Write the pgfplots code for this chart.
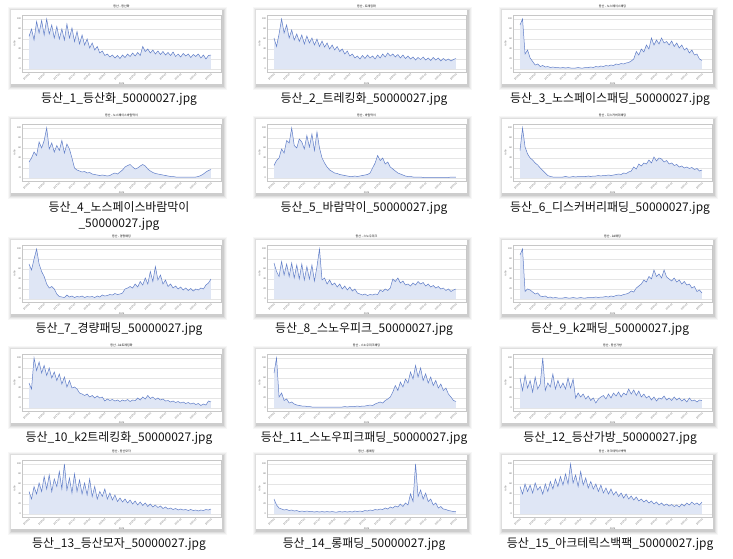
\documentclass[border=0pt]{standalone}
\usepackage{fontspec}
\setmainfont{Noto Sans CJK KR}
\usepackage{pgfplots}
\pgfplotsset{compat=1.18}
\usepackage{pgfplotstable}

\definecolor{lineblue}{RGB}{96,126,200}
\definecolor{fillblue}{RGB}{223,230,245}
\definecolor{capcol}{RGB}{20,20,20}

% one table per thumbnail, weekly ratio values (max = 100)
\pgfplotstableread[row sep=\\]{v\\65\\80\\58\\95\\72\\97\\68\\100\\70\\88\\62\\85\\60\\80\\58\\90\\62\\82\\55\\75\\50\\68\\48\\60\\42\\52\\38\\45\\32\\36\\27\\30\\24\\28\\22\\27\\21\\28\\23\\30\\25\\32\\26\\33\\27\\45\\35\\40\\32\\38\\30\\36\\29\\35\\28\\33\\27\\34\\25\\30\\24\\31\\26\\30\\23\\29\\25\\30\\22\\28\\20\\27\\28\\}\dA
\pgfplotstableread[row sep=\\]{v\\62\\45\\70\\100\\72\\88\\62\\78\\58\\70\\55\\68\\50\\66\\52\\62\\48\\60\\45\\56\\44\\52\\40\\48\\38\\45\\35\\40\\30\\36\\26\\30\\22\\26\\20\\27\\21\\28\\22\\26\\20\\28\\22\\30\\24\\32\\26\\30\\24\\29\\22\\28\\21\\26\\20\\24\\18\\23\\19\\24\\18\\22\\17\\23\\18\\22\\16\\21\\17\\20\\16\\19\\21\\}\dB
\pgfplotstableread[row sep=\\]{v\\88\\100\\30\\38\\22\\15\\8\\10\\5\\7\\4\\5\\3\\4\\3\\3\\2\\3\\2\\3\\2\\2\\2\\3\\2\\2\\3\\3\\4\\3\\5\\4\\6\\5\\7\\6\\8\\7\\10\\9\\11\\10\\12\\13\\16\\20\\35\\28\\40\\34\\48\\40\\62\\48\\58\\50\\62\\52\\55\\48\\56\\45\\52\\42\\48\\38\\42\\32\\38\\28\\30\\20\\17\\}\dC
\pgfplotstableread[row sep=\\]{v\\32\\40\\52\\45\\72\\60\\75\\100\\58\\70\\52\\65\\55\\75\\50\\68\\58\\40\\20\\16\\14\\12\\13\\10\\11\\8\\7\\6\\5\\6\\5\\4\\5\\8\\10\\8\\12\\16\\22\\25\\27\\22\\18\\20\\24\\27\\24\\18\\14\\11\\9\\8\\7\\6\\5\\4\\3\\3\\2\\2\\2\\2\\2\\2\\2\\2\\2\\3\\5\\8\\12\\15\\17\\}\dD
\pgfplotstableread[row sep=\\]{v\\25\\35\\40\\58\\50\\75\\70\\100\\65\\60\\78\\72\\58\\85\\62\\88\\55\\92\\60\\40\\30\\22\\16\\13\\10\\9\\7\\6\\5\\4\\3\\3\\4\\3\\4\\5\\6\\7\\10\\20\\30\\45\\35\\40\\28\\32\\22\\18\\14\\10\\8\\6\\4\\3\\3\\2\\2\\2\\2\\1\\1\\1\\1\\1\\1\\1\\1\\1\\1\\1\\2\\2\\2\\}\dE
\pgfplotstableread[row sep=\\]{v\\55\\100\\62\\48\\40\\36\\30\\26\\20\\15\\10\\5\\3\\2\\2\\2\\2\\2\\3\\2\\2\\3\\2\\3\\3\\3\\3\\4\\3\\4\\4\\5\\4\\5\\5\\6\\5\\6\\7\\8\\7\\10\\9\\12\\14\\22\\18\\28\\24\\30\\28\\36\\30\\42\\34\\40\\38\\32\\35\\28\\30\\25\\27\\22\\24\\20\\22\\19\\21\\17\\19\\14\\16\\}\dF
\pgfplotstableread[row sep=\\]{v\\70\\58\\80\\100\\70\\55\\45\\30\\22\\25\\20\\10\\5\\4\\3\\8\\4\\6\\3\\5\\4\\6\\3\\5\\4\\5\\3\\6\\4\\8\\6\\7\\9\\8\\11\\9\\10\\12\\20\\22\\25\\22\\30\\24\\35\\28\\42\\30\\55\\35\\65\\38\\48\\30\\38\\25\\30\\22\\26\\20\\24\\18\\22\\17\\21\\16\\20\\18\\22\\20\\28\\32\\40\\}\dG
\pgfplotstableread[row sep=\\]{v\\72\\55\\45\\75\\48\\70\\45\\72\\42\\68\\40\\70\\38\\65\\40\\68\\36\\65\\100\\38\\42\\30\\38\\28\\32\\24\\30\\20\\26\\18\\24\\16\\20\\12\\10\\8\\10\\7\\9\\8\\10\\9\\18\\15\\20\\17\\22\\40\\35\\42\\32\\36\\28\\30\\26\\32\\28\\35\\30\\33\\26\\30\\24\\27\\22\\25\\20\\22\\17\\20\\15\\18\\20\\}\dH
\pgfplotstableread[row sep=\\]{v\\88\\100\\15\\20\\18\\14\\10\\12\\6\\5\\6\\3\\4\\2\\3\\2\\2\\2\\3\\2\\2\\3\\2\\2\\3\\2\\2\\3\\3\\3\\4\\3\\4\\4\\5\\4\\6\\5\\7\\8\\7\\9\\10\\12\\16\\14\\22\\26\\30\\38\\34\\45\\40\\58\\45\\50\\42\\58\\44\\40\\36\\42\\34\\38\\30\\35\\28\\30\\22\\25\\15\\18\\12\\}\dI
\pgfplotstableread[row sep=\\]{v\\50\\38\\100\\75\\92\\70\\85\\65\\80\\60\\72\\55\\68\\48\\62\\42\\55\\40\\42\\38\\30\\28\\25\\28\\22\\25\\20\\24\\20\\22\\14\\18\\15\\17\\14\\16\\13\\16\\14\\17\\13\\16\\15\\20\\16\\22\\18\\25\\19\\22\\17\\20\\16\\18\\14\\15\\12\\14\\11\\13\\10\\12\\9\\11\\8\\10\\7\\9\\5\\8\\6\\14\\12\\}\dJ
\pgfplotstableread[row sep=\\]{v\\70\\100\\22\\30\\15\\18\\10\\12\\8\\6\\5\\4\\4\\3\\3\\2\\2\\2\\2\\2\\2\\2\\2\\2\\2\\2\\2\\2\\3\\2\\3\\3\\3\\4\\3\\4\\4\\5\\6\\5\\8\\10\\12\\10\\15\\18\\22\\32\\45\\35\\52\\42\\58\\50\\72\\58\\85\\62\\80\\55\\68\\50\\62\\45\\55\\40\\48\\35\\40\\28\\22\\15\\13\\}\dK
\pgfplotstableread[row sep=\\]{v\\60\\35\\65\\40\\55\\32\\62\\38\\48\\100\\35\\50\\42\\68\\38\\55\\40\\50\\38\\60\\40\\58\\20\\30\\22\\28\\18\\24\\15\\20\\10\\18\\22\\25\\18\\28\\20\\30\\24\\32\\22\\30\\26\\38\\28\\36\\25\\34\\22\\28\\20\\24\\16\\22\\14\\20\\18\\24\\16\\20\\15\\22\\16\\20\\14\\18\\12\\20\\14\\16\\12\\16\\15\\}\dL
\pgfplotstableread[row sep=\\]{v\\45\\30\\55\\40\\62\\45\\75\\50\\78\\45\\70\\55\\85\\50\\100\\48\\72\\42\\80\\45\\68\\40\\62\\38\\70\\35\\55\\30\\45\\35\\50\\30\\42\\28\\38\\25\\32\\24\\30\\22\\28\\20\\26\\18\\24\\17\\22\\15\\20\\14\\18\\13\\16\\11\\14\\10\\12\\9\\11\\8\\10\\8\\9\\7\\9\\7\\8\\6\\8\\7\\9\\8\\10\\}\dM
\pgfplotstableread[row sep=\\]{v\\30\\18\\12\\10\\8\\9\\7\\8\\6\\7\\5\\6\\5\\6\\5\\5\\4\\5\\4\\5\\4\\5\\4\\5\\4\\4\\5\\4\\5\\4\\5\\4\\6\\5\\6\\5\\7\\6\\8\\7\\9\\8\\10\\9\\12\\10\\14\\12\\16\\14\\20\\15\\22\\18\\40\\25\\100\\35\\48\\30\\42\\25\\30\\18\\22\\12\\15\\10\\9\\7\\6\\5\\5\\}\dN
\pgfplotstableread[row sep=\\]{v\\55\\40\\60\\45\\58\\42\\62\\48\\55\\40\\60\\45\\65\\50\\70\\55\\75\\58\\80\\60\\100\\62\\78\\55\\85\\58\\72\\52\\65\\50\\60\\45\\58\\42\\52\\40\\50\\38\\45\\35\\42\\32\\40\\30\\36\\28\\34\\26\\30\\24\\28\\22\\26\\20\\24\\18\\22\\17\\20\\16\\19\\15\\18\\14\\20\\16\\22\\18\\24\\19\\22\\18\\24\\}\dO

\pgfplotsset{thumbax/.style={
  width=199bp, height=57bp, scale only axis, anchor=north west,
  xmin=-2.77, xmax=75.96, ymin=-6, ymax=108,
  axis line style={draw=black!22, line width=0.35pt},
  ytick={0,20,40,60,80,100},
  xtick={0,6,...,72},
  xticklabels={2016-01,2016-07,2017-01,2017-07,2018-01,2018-07,2019-01,2019-07,2020-01,2020-07,2021-01,2021-07,2022-01},
  major tick length=0pt,
  ymajorgrids, grid style={draw=black!10, line width=0.3pt},
  /pgf/number format/assume math mode=true,
  ticklabel style={font=\fontsize{2.4}{2.4}\selectfont, text=black!60},
  xticklabel style={rotate=45, anchor=north east, inner sep=0.6bp},
  yticklabel style={inner sep=0.8bp},
  xlabel={date}, ylabel={ratio},
  xlabel style={font=\fontsize{2.6}{2.6}\selectfont, text=black!60, inner sep=0.5bp},
  ylabel style={font=\fontsize{2.6}{2.6}\selectfont, text=black!60, inner sep=0.5bp},
  title style={font=\fontsize{3}{3}\selectfont, inner sep=0.6bp},
}}

% #1 column offset, #2 caption centre y, #3 chart title, #4 caption, #5 table
\newcommand\thumb[5]{%
  \pgfmathsetmacro\fL{11+#1}\pgfmathsetmacro\fR{222+#1}%
  \pgfmathsetmacro\fT{-(#2-88)}\pgfmathsetmacro\fB{-(#2-14)}%
  \foreach \sk/\so in {4/0.03,3/0.045,2/0.06,1/0.08}{%
    \fill[black,opacity=\so] (\fL bp-\sk bp+1bp,\fT bp+\sk bp-1bp) rectangle (\fR bp+\sk bp+1bp,\fB bp-\sk bp-1.5bp);}
  \fill[white] (\fL bp,\fT bp) rectangle (\fR bp,\fB bp);
  \pgfmathsetmacro\pX{22+#1}\pgfmathsetmacro\pY{-(#2-83)}%
  \begin{axis}[thumbax, at={(\pX bp,\pY bp)}, title={#3}]
    \addplot[fill=fillblue, draw=none] table[x expr=\coordindex, y=v] {#5} \closedcycle;
    \addplot[lineblue, line width=0.5bp] table[x expr=\coordindex, y=v] {#5};
  \end{axis}
  \pgfmathsetmacro\cX{119+#1}\pgfmathsetmacro\cY{-(#2+4.4)}%
  \node[font=\fontsize{12}{14}\selectfont, text=capcol, inner sep=0pt, anchor=base] at (\cX bp,\cY bp) {#4};
}

\begin{document}
\begin{tikzpicture}
\path[use as bounding box] (0,0) rectangle (733bp,-559bp);
\thumb{0}{98}{등산 - 등산화}{등산\_1\_등산화\_50000027.jpg}{\dA}
\thumb{245}{98}{등산 - 트레킹화}{등산\_2\_트레킹화\_50000027.jpg}{\dB}
\thumb{491}{98}{등산 - 노스페이스패딩}{등산\_3\_노스페이스패딩\_50000027.jpg}{\dC}
\thumb{0}{207}{등산 - 노스페이스바람막이}{등산\_4\_노스페이스바람막이}{\dD}
\node[font=\fontsize{12}{14}\selectfont, text=capcol, inner sep=0pt, anchor=base] at (119bp,-227.4bp) {\_50000027.jpg};
\thumb{245}{207}{등산 - 바람막이}{등산\_5\_바람막이\_50000027.jpg}{\dE}
\thumb{491}{207}{등산 - 디스커버리패딩}{등산\_6\_디스커버리패딩\_50000027.jpg}{\dF}
\thumb{0}{328}{등산 - 경량패딩}{등산\_7\_경량패딩\_50000027.jpg}{\dG}
\thumb{245}{328}{등산 - 스노우피크}{등산\_8\_스노우피크\_50000027.jpg}{\dH}
\thumb{491}{328}{등산 - k2패딩}{등산\_9\_k2패딩\_50000027.jpg}{\dI}
\thumb{0}{437}{등산 - k2트레킹화}{등산\_10\_k2트레킹화\_50000027.jpg}{\dJ}
\thumb{245}{437}{등산 - 스노우피크패딩}{등산\_11\_스노우피크패딩\_50000027.jpg}{\dK}
\thumb{491}{437}{등산 - 등산가방}{등산\_12\_등산가방\_50000027.jpg}{\dL}
\thumb{0}{543}{등산 - 등산모자}{등산\_13\_등산모자\_50000027.jpg}{\dM}
\thumb{245}{543}{등산 - 롱패딩}{등산\_14\_롱패딩\_50000027.jpg}{\dN}
\thumb{491}{543}{등산 - 아크테릭스백팩}{등산\_15\_아크테릭스백팩\_50000027.jpg}{\dO}
\end{tikzpicture}
\end{document}
